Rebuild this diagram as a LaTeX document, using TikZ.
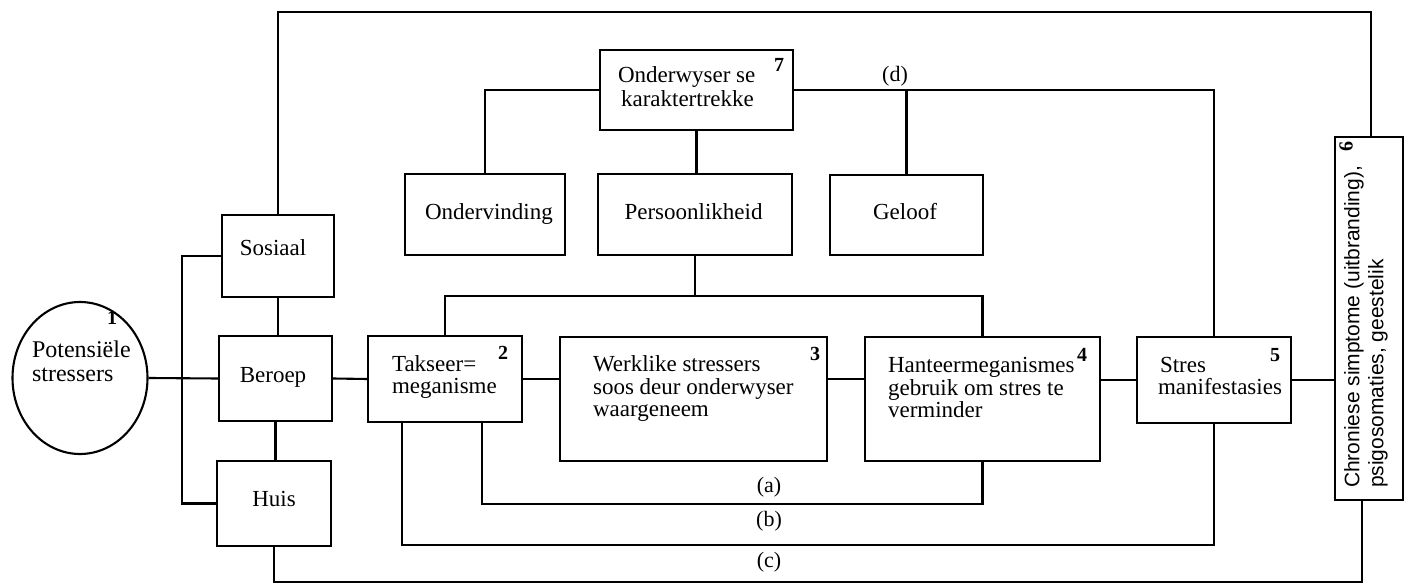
\documentclass[tikz,border=0pt]{standalone}
\usepackage{fontspec}
\setmainfont{Liberation Serif}
\newfontfamily\sansf{Liberation Sans}
\usetikzlibrary{shapes.geometric}
\begin{document}
\begin{tikzpicture}[x=1pt,y=-1pt, line width=2.1pt,
  box/.style={draw, rectangle, inner sep=0pt},
  txt/.style={inner sep=0pt, font=\fontsize{23}{22.5}\selectfont, anchor=base west},
  ctxt/.style={inner sep=0pt, font=\fontsize{23}{22.5}\selectfont, anchor=base},
  num/.style={inner sep=0pt, font=\fontsize{20}{20}\selectfont\bfseries},
  lbl/.style={inner sep=0pt, font=\fontsize{22}{22}\selectfont}]
\useasboundingbox (0,0) rectangle (1409,585);

% boxes
\node[draw, ellipse, inner sep=0pt, minimum width=135pt, minimum height=152pt] (pot) at (80,378) {};
\node[box, minimum width=112pt, minimum height=82pt] (sos) at (278,256) {};
\node[box, minimum width=113pt, minimum height=85pt] (ber) at (275.5,378.5) {};
\node[box, minimum width=114pt, minimum height=85pt] (huis) at (274,503.5) {};
\node[box, minimum width=154pt, minimum height=86pt] (tak) at (445,379) {};
\node[box, minimum width=267pt, minimum height=124pt] (werk) at (693.5,399) {};
\node[box, minimum width=235pt, minimum height=124pt] (han) at (982.5,399) {};
\node[box, minimum width=154pt, minimum height=86pt] (stres) at (1214,380) {};
\node[box, minimum width=68pt, minimum height=363pt] (chron) at (1369,318.5) {};
\node[box, minimum width=193pt, minimum height=80pt] (ond) at (696.5,90) {};
\node[box, minimum width=160pt, minimum height=81pt] (onv) at (485,214.5) {};
\node[box, minimum width=194pt, minimum height=81pt] (pers) at (695,214.5) {};
\node[box, minimum width=153pt, minimum height=80pt] (gel) at (906.5,215) {};

% texts
\node[txt, font=\fontsize{24}{24}\selectfont] (pot-t) at (31,358) {\parbox[t]{120pt}{Potensiële\\stressers}};
\node[ctxt] (sos-t) at (273,256) {Sosiaal};
\node[ctxt] (ber-t) at (273,383) {Beroep};
\node[ctxt] (huis-t) at (274,506) {Huis};
\node[txt, font=\fontsize{23}{21}\selectfont] (tak-t) at (391,372) {\parbox[t]{140pt}{Takseer=\\meganisme}};
\node[txt] (werk-t) at (592,372) {\parbox[t]{230pt}{Werklike stressers\\soos deur onderwyser\\waargeneem}};
\node[txt] (han-t) at (887,373) {\parbox[t]{210pt}{Hanteermeganismes\\gebruik om stres te\\verminder}};
\node[txt] (stres-t) at (1159,373) {Stres};
\node[txt] (stres-t2) at (1157,395) {manifestasies};
\node[txt] (ond-t) at (617,83) {Onderwyser se};
\node[txt] (ond-t2) at (620,107) {karaktertrekke};
\node[ctxt] (onv-t) at (489,220) {Ondervinding};
\node[ctxt] (pers-t) at (693.5,220) {Persoonlikheid};
\node[ctxt] (gel-t) at (905,220) {Geloof};
\node[rotate=90, anchor=north west, inner sep=0pt, font=\sansf\fontsize{21}{24}\selectfont] (chron-t) at (1343,489)
  {\parbox[t]{345pt}{Chroniese simptome (uitbranding),\\psigosomaties, geestelik}};

% numbers
\node[num] (n1) at (112,318) {1};
\node[num] (n2) at (503,353) {2};
\node[num] (n3) at (815,354) {3};
\node[num] (n4) at (1082,355) {4};
\node[num] (n5) at (1275,355) {5};
\node[num, rotate=90] (n6) at (1346,147) {6};
\node[num] (n7) at (779,65) {7};

% labels
\node[lbl] (la) at (769,487) {(a)};
\node[lbl] (lb) at (769,521) {(b)};
\node[lbl] (lc) at (769,562) {(c)};
\node[lbl] (ld) at (895,76) {(d)};

% connectors
\coordinate (bus) at (182,378);
\draw (pot.east) -- (ber.west);
\draw (sos.west) -| (bus) |- (huis.west);
\draw (sos.south) -- (sos.south |- ber.north);
\draw (ber.south) -- (ber.south |- huis.north);
\draw (ber.east) -- (tak.west);
\draw (tak.east) -- (tak.east -| werk.west);
\draw (tak.east -| werk.east) -- (tak.east -| han.west);
\draw (stres.west -| han.east) -- (stres.west);
\draw (stres.east) -- (stres.east -| chron.west);

\coordinate (bar) at (693,296);
\draw (tak.north) |- (bar) -| (han.north);
\draw (pers.south) -- (pers.south |- bar);

\draw (ond.west) -| (onv.north);
\draw (ond.south) -- (ond.south |- pers.north);
\draw (ond.east) -| (stres.north);
\draw (gel.north) -- (gel.north |- ond.east);

\coordinate (aL) at (482,504);
\draw ([xshift=37pt]tak.south) -- (aL) -| (han.south);
\coordinate (bL) at (402,545);
\draw ([xshift=-43pt]tak.south) -- (bL) -| (stres.south);
\coordinate (cL) at (274,582);
\draw (huis.south) -- (cL) -| ([xshift=-7pt]chron.south);
\coordinate (topL) at (278,12);
\draw (sos.north) -- (topL) -| ([xshift=2pt]chron.north);
\end{tikzpicture}
\end{document}
